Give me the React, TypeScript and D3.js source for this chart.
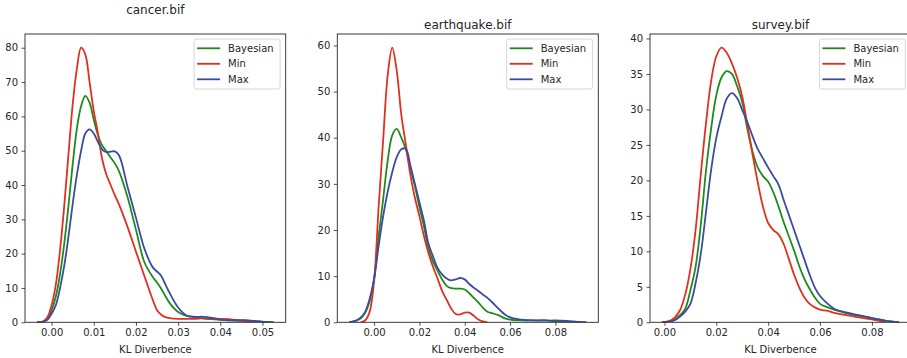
import React, { useRef, useEffect } from 'react'
import * as d3 from 'd3'

const seriesNames = ['Bayesian', 'Min', 'Max']
const seriesColors = ['#1f8b1f', '#e0301e', '#3a4ca0']

// cancer.bif
const cancerX = [
  -0.0035, -0.002, -0.001, 0, 0.001, 0.002, 0.003, 0.004, 0.005, 0.006, 0.007, 0.008, 0.009, 0.01,
  0.011, 0.012, 0.013, 0.014, 0.015, 0.016, 0.018, 0.02, 0.022, 0.024, 0.025, 0.026, 0.027, 0.028,
  0.03, 0.032, 0.034, 0.036, 0.038, 0.04, 0.042, 0.044, 0.046, 0.048, 0.05, 0.0527,
]
const cancerBayesian = [
  0, 0.2, 1, 3.5, 7.5, 14, 23, 34, 46, 56.5, 63, 66, 64, 59, 54.5, 51.5, 49.8, 48, 46.3, 44, 36.5,
  27, 17.5, 13.2, 11.6, 9.8, 7.6, 5.6, 3.0, 1.9, 1.5, 1.1, 0.9, 0.7, 0.6, 0.5, 0.5, 0.3, 0.1, 0,
]
const cancerMin = [
  0, 0.3, 1.5, 5, 11, 21, 34, 49, 63.5, 74, 80, 78, 70, 61.5, 55, 47.5, 43, 40, 37, 34.3, 27.8,
  20.6, 13.5, 6.5, 3.5, 2.2, 1.5, 1.2, 1.0, 1.0, 1.0, 1.2, 1.1, 1.0, 0.9, 0.6, 0.3, 0.1, null, null,
]
const cancerMax = [
  0, 0.15, 0.7, 2.5, 5, 10, 16.5, 25, 34.5, 43, 50, 55, 56.2, 55, 52.5, 50.3, 49.6, 49.7, 49.8, 48.6,
  39.5, 30.5, 21.5, 16, 14.8, 13.5, 11, 8.5, 4.3, 2.0, 1.6, 1.6, 1.3, 0.8, 0.6, 0.6, 0.6, 0.4, 0.2, 0,
]
const cancerXTicks = [0, 0.01, 0.02, 0.03, 0.04, 0.05]
const cancerYTicks = [0, 10, 20, 30, 40, 50, 60, 70, 80]

// earthquake.bif
const quakeX = [
  -0.011, -0.008, -0.006, -0.004, -0.002, 0, 0.002, 0.004, 0.006, 0.008, 0.01, 0.012, 0.014, 0.016,
  0.018, 0.02, 0.022, 0.024, 0.026, 0.028, 0.03, 0.032, 0.034, 0.036, 0.038, 0.04, 0.042, 0.044,
  0.046, 0.048, 0.05, 0.052, 0.055, 0.058, 0.061, 0.065, 0.07, 0.075, 0.08, 0.085, 0.09, 0.0937,
]
const quakeBayesian = [
  0, 0.3, 0.8, 2, 4.5, 9.5, 18.5, 26.7, 35, 40.5, 41.9, 40, 37.5, 33.5, 29.5, 25, 20.8, 16, 13.2,
  11.2, 9.3, 7.9, 7.4, 7.3, 7.3, 7.1, 6.3, 5.3, 4.3, 3.2, 2.3, 2.0, 1.5, 0.8, 0.5, 0.4, 0.4, 0.45,
  0.2, 0.1, 0.05, 0,
]
const quakeMin = [
  null, null, 0, 0.4, 2.2, 9, 25, 39.5, 53.5, 59.5, 54.5, 45, 38.5, 32, 27, 23, 18.7, 15, 12, 9.5,
  6.8, 4.9, 3, 1.8, 1.7, 2.1, 2.1, 1.4, 0.6, 0.2, 0, null, null, null, null, null, null, null, null,
  null, null, null,
]
const quakeMax = [
  0, 0.4, 1, 2.2, 5, 9.3, 16.5, 23, 28.3, 32.5, 35.8, 37.5, 37.6, 34, 30, 26, 22, 17, 14.3, 11.8,
  10.4, 9.5, 9.1, 9.3, 9.6, 9.3, 8.3, 7.5, 6.8, 6, 5.3, 4.4, 2.9, 1.6, 0.9, 0.6, 0.4, 0.35, 0.4,
  0.3, 0.1, 0,
]
const quakeXTicks = [0, 0.02, 0.04, 0.06, 0.08]
const quakeYTicks = [0, 10, 20, 30, 40, 50, 60]

// survey.bif
const surveyX = [
  -0.001, 0.002, 0.004, 0.006, 0.008, 0.01, 0.012, 0.014, 0.016, 0.018, 0.02, 0.022, 0.024, 0.026,
  0.028, 0.03, 0.032, 0.034, 0.036, 0.038, 0.04, 0.042, 0.044, 0.046, 0.048, 0.05, 0.052, 0.054,
  0.056, 0.058, 0.06, 0.063, 0.066, 0.07, 0.075, 0.08, 0.085, 0.0905,
]
const surveyBayesian = [
  0, 0.1, 0.4, 1, 1.9, 4.5, 7.8, 13.7, 21.3, 27.3, 32, 34.5, 35.4, 35, 33.3, 31, 27.2, 24, 21.8,
  20.6, 19.8, 18.3, 16.3, 14.1, 12.1, 10.1, 7.9, 6.1, 4.7, 3.5, 2.6, 2.1, 1.7, 1.3, 0.9, 0.6, 0.25,
  0,
]
const surveyMin = [
  0, 0.2, 0.7, 1.7, 3.9, 7.5, 13, 20.8, 28, 34, 37.5, 38.7, 38, 36.5, 34.5, 31.8, 27.8, 23.6, 19.7,
  16.3, 14, 13, 12.4, 11, 8.9, 6.7, 4.9, 3.5, 2.6, 2.1, 1.8, 1.6, 1.3, 1.0, 0.7, 0.4, 0.05, null,
]
const surveyMax = [
  0, 0.1, 0.3, 0.8, 1.5, 2.6, 5.5, 9.6, 15.5, 21.5, 26, 29, 31.5, 32.3, 31.6, 29.9, 28.2, 26.2,
  24.4, 23.1, 21.8, 20.6, 19.4, 17.2, 15.1, 13, 10.9, 8.8, 6.7, 4.9, 3.7, 2.6, 1.8, 1.4, 1.0, 0.6,
  0.25, 0,
]
const surveyXTicks = [0, 0.02, 0.04, 0.06, 0.08]
const surveyYTicks = [0, 5, 10, 15, 20, 25, 30, 35, 40]

type Panel = {
  title: string
  xs: number[]
  series: (number | null)[][]
  xTicks: number[]
  yTicks: number[]
  left: number
  right: number
  titleY: number
}

const panels: Panel[] = [
  {
    title: 'cancer.bif',
    xs: cancerX,
    series: [cancerBayesian, cancerMin, cancerMax],
    xTicks: cancerXTicks,
    yTicks: cancerYTicks,
    left: 25,
    right: 285.7,
    titleY: 13.5,
  },
  {
    title: 'earthquake.bif',
    xs: quakeX,
    series: [quakeBayesian, quakeMin, quakeMax],
    xTicks: quakeXTicks,
    yTicks: quakeYTicks,
    left: 337.3,
    right: 598.3,
    titleY: 28.5,
  },
  {
    title: 'survey.bif',
    xs: surveyX,
    series: [surveyBayesian, surveyMin, surveyMax],
    xTicks: surveyXTicks,
    yTicks: surveyYTicks,
    left: 650,
    right: 911,
    titleY: 28.5,
  },
]

const WIDTH = 907
const HEIGHT = 358
const TOP = 34
const BOTTOM = 322.3
const FONT = '"DejaVu Sans", sans-serif'
const INK = '#262626'

const App: React.FC = () => {
  const svgRef = useRef<SVGSVGElement>(null)

  useEffect(() => {
    if (!svgRef.current) return
    const svg = d3.select(svgRef.current)
    svg.selectAll('*').remove()

    panels.forEach(p => {
      const [x0, x1] = d3.extent(p.xs) as [number, number]
      const pad = (x1 - x0) * 0.05
      const yMax = d3.max(p.series, s => d3.max(s, v => v ?? 0)) || 0

      const x = d3.scaleLinear().domain([x0 - pad, x1 + pad]).range([p.left, p.right])
      const y = d3.scaleLinear().domain([0, yMax * 1.05]).range([BOTTOM, TOP])

      const g = svg.append('g')

      // clip for the density curves
      const clipId = `clip-${p.title.replace(/[^a-z]/g, '')}`
      g.append('clipPath')
        .attr('id', clipId)
        .append('rect')
        .attr('x', p.left)
        .attr('y', TOP)
        .attr('width', p.right - p.left)
        .attr('height', BOTTOM - TOP)

      p.series.forEach((s, i) => {
        const pts = p.xs.map((xv, j) => [xv, s[j]] as [number, number | null])
        const line = d3
          .line<[number, number | null]>()
          .defined(d => d[1] != null)
          .x(d => x(d[0]))
          .y(d => y(d[1] as number))
          .curve(d3.curveCatmullRom.alpha(0.5))
        g.append('path')
          .datum(pts)
          .attr('clip-path', `url(#${clipId})`)
          .attr('fill', 'none')
          .attr('stroke', seriesColors[i])
          .attr('stroke-width', 1.8)
          .attr('stroke-linejoin', 'round')
          .attr('d', line)
      })

      // axes
      const xAxis = g
        .append('g')
        .attr('transform', `translate(0, ${BOTTOM})`)
        .call(
          d3
            .axisBottom(x)
            .tickValues(p.xTicks)
            .tickSize(3.5)
            .tickPadding(3.5)
            .tickFormat(d3.format('.2f') as any),
        )
      const yAxis = g
        .append('g')
        .attr('transform', `translate(${p.left}, 0)`)
        .call(
          d3
            .axisLeft(y)
            .tickValues(p.yTicks)
            .tickSize(3.5)
            .tickPadding(3.5)
            .tickFormat(d3.format('d') as any),
        )
      ;[xAxis, yAxis].forEach(a => {
        a.select('.domain').remove()
        a.selectAll('.tick line').attr('stroke', INK).attr('stroke-width', 0.8)
        a.selectAll('.tick text')
          .attr('fill', INK)
          .style('font-family', FONT)
          .style('font-size', '10px')
      })

      // spines
      g.append('rect')
        .attr('x', p.left)
        .attr('y', TOP)
        .attr('width', p.right - p.left)
        .attr('height', BOTTOM - TOP)
        .attr('fill', 'none')
        .attr('stroke', INK)
        .attr('stroke-width', 0.9)

      g.append('text')
        .attr('x', (p.left + p.right) / 2)
        .attr('y', p.titleY)
        .attr('text-anchor', 'middle')
        .attr('fill', INK)
        .style('font-family', FONT)
        .style('font-size', '12px')
        .text(p.title)

      g.append('text')
        .attr('x', (p.left + p.right) / 2)
        .attr('y', 353)
        .attr('text-anchor', 'middle')
        .attr('fill', INK)
        .style('font-family', FONT)
        .style('font-size', '10px')
        .text('KL Diverbence')

      // legend
      const legend = g
        .append('g')
        .attr('transform', `translate(${p.right - 5.6 - 86}, ${TOP + 5})`)
      legend
        .append('rect')
        .attr('width', 86)
        .attr('height', 50)
        .attr('rx', 2.5)
        .attr('fill', 'white')
        .attr('fill-opacity', 0.8)
        .attr('stroke', '#cccccc')
        .attr('stroke-width', 0.8)
      seriesNames.forEach((name, i) => {
        const item = legend.append('g').attr('transform', `translate(0, ${9.3 + i * 15.5})`)
        item
          .append('line')
          .attr('x1', 3)
          .attr('x2', 26)
          .attr('stroke', seriesColors[i])
          .attr('stroke-width', 1.8)
        item
          .append('text')
          .attr('x', 34)
          .attr('dy', '0.35em')
          .attr('fill', INK)
          .style('font-family', FONT)
          .style('font-size', '10px')
          .text(name)
      })
    })
  }, [])

  return (
    <svg
      ref={svgRef}
      width={WIDTH}
      height={HEIGHT}
      style={{ position: 'absolute', left: 0, top: 0, background: 'white' }}
    />
  )
}

export default App
